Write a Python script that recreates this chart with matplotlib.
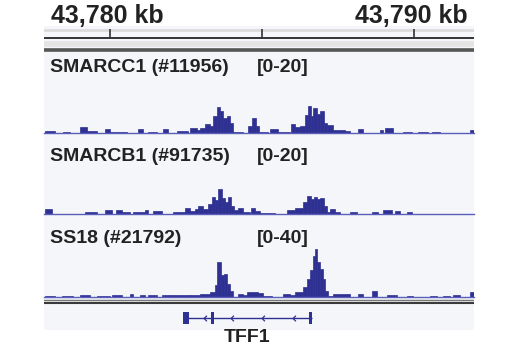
import numpy as np
import matplotlib
matplotlib.use("Agg")
import matplotlib.pyplot as plt
from matplotlib.path import Path

# genome window (kb)
ref_kb = 43780
view_start = 43777.83
view_end = 43791.97
ruler_ticks = [43780, 43785, 43790]
ruler_labels = ["43,780 kb", None, "43,790 kb"]

# signal bins: start / end as kb offset from 43,780 kb, value in track units
smarcc1_start = [-2.14, -1.55, -0.99, -0.76, -0.16, 0.00, 0.92, 1.25, 1.74, 2.20,
                 2.63, 2.86, 2.96, 3.13, 3.29, 3.39, 3.52, 3.62, 3.72, 3.85,
                 3.95, 4.05, 4.54, 4.67, 4.80, 4.90, 5.26, 5.53, 5.95, 6.09,
                 6.25, 6.41, 6.51, 6.61, 6.68, 6.81, 6.91, 7.04, 7.14, 7.34,
                 7.73, 8.16, 8.88, 9.05, 9.64, 10.13, 10.59, 11.84]
smarcc1_end = [-1.81, -1.32, -0.76, -0.43, 0.00, 0.56, 1.09, 1.55, 1.91, 2.57,
               2.86, 2.96, 3.13, 3.29, 3.39, 3.52, 3.62, 3.72, 3.85, 3.95,
               4.05, 4.38, 4.67, 4.80, 4.90, 5.20, 5.53, 5.92, 6.09, 6.25,
               6.41, 6.51, 6.61, 6.68, 6.81, 6.91, 7.04, 7.14, 7.34, 7.73,
               7.90, 8.32, 8.98, 9.31, 9.93, 10.46, 10.86, 11.97]
smarcc1_val = [0.5, 0.25, 1.5, 0.4, 1.0, 0.25, 1.0, 0.25, 1.0, 0.5,
               1.25, 0.75, 1.25, 2.25, 1.75, 4.25, 6.5, 5.5, 3.75, 4.25,
               2.5, 0.25, 1.75, 3.75, 1.75, 0.2, 1.0, 0.25, 2.25, 1.5,
               1.75, 4.5, 6.75, 4.25, 6.25, 4.75, 5.5, 2.5, 2.0, 0.75,
               0.4, 1.0, 0.75, 1.25, 0.25, 0.25, 0.25, 0.75]

smarcb1_start = [-2.14, -0.82, -0.16, 0.20, 0.39, 0.76, 1.15, 1.41, 2.07, 2.47,
                 2.63, 2.80, 2.89, 3.06, 3.22, 3.36, 3.45, 3.55, 3.68, 3.78,
                 3.88, 3.98, 4.08, 4.21, 4.38, 4.64, 4.77, 4.93, 5.82, 6.09,
                 6.35, 6.48, 6.61, 6.71, 6.81, 6.91, 7.04, 7.14, 7.24, 7.40,
                 7.89, 8.62, 8.98, 9.38, 9.77]
smarcb1_end = [-1.91, -0.43, 0.07, 0.39, 0.66, 1.15, 1.25, 1.71, 2.47, 2.63,
               2.80, 2.89, 3.06, 3.22, 3.36, 3.45, 3.55, 3.68, 3.78, 3.88,
               3.98, 4.08, 4.21, 4.38, 4.61, 4.77, 4.93, 5.43, 6.09, 6.35,
               6.48, 6.61, 6.71, 6.81, 6.91, 7.04, 7.14, 7.24, 7.40, 7.57,
               8.13, 8.82, 9.28, 9.54, 9.93]
smarcb1_val = [1.25, 0.5, 1.0, 1.0, 0.4, 0.6, 1.0, 0.75, 0.5, 1.5,
               0.75, 1.25, 2.0, 1.25, 2.5, 4.25, 3.5, 6.25, 4.0, 3.0,
               4.25, 2.0, 1.0, 1.5, 0.5, 1.5, 0.75, 0.25, 1.0, 1.5,
               3.0, 4.5, 3.75, 4.25, 3.75, 4.0, 2.0, 0.5, 1.25, 0.5,
               0.5, 0.5, 1.0, 0.75, 0.6]

ss18_start = [-2.14, -1.58, -0.99, -0.43, 0.07, 0.66, 0.99, 1.25, 1.71, 1.97,
              2.63, 2.96, 3.29, 3.45, 3.52, 3.65, 3.75, 3.85, 3.95, 4.05,
              4.21, 4.38, 4.51, 4.87, 5.03, 5.33, 5.69, 5.92, 6.09, 6.35,
              6.48, 6.58, 6.68, 6.74, 6.81, 6.91, 7.01, 7.07, 7.17, 7.34,
              8.16, 8.62, 9.11, 9.77, 10.53, 10.95, 11.28, 11.84]
ss18_end = [-1.81, -1.22, -0.66, 0.00, 0.39, 0.76, 1.15, 1.55, 1.97, 2.63,
            2.96, 3.29, 3.45, 3.52, 3.65, 3.75, 3.85, 3.95, 4.05, 4.21,
            4.38, 4.51, 4.87, 5.03, 5.33, 5.59, 5.92, 6.09, 6.35, 6.48,
            6.58, 6.68, 6.74, 6.81, 6.91, 7.01, 7.07, 7.17, 7.34, 7.89,
            8.32, 8.78, 9.44, 9.97, 10.76, 11.18, 11.51, 11.97]
ss18_val = [0.75, 0.75, 1.0, 0.5, 1.0, 1.5, 1.0, 1.0, 1.25, 1.0,
            1.25, 1.5, 2.5, 6.0, 17.5, 11.0, 11.5, 6.5, 3.0, 0.25,
            1.5, 1.0, 2.5, 2.0, 0.75, 0.25, 1.5, 1.0, 2.5, 5.0,
            9.0, 13.5, 20.5, 24.0, 17.5, 14.0, 9.0, 3.0, 0.5, 1.5,
            1.5, 3.0, 1.0, 0.75, 0.75, 0.5, 1.0, 2.5]

track_names = ["SMARCC1 (#11956)", "SMARCB1 (#91735)", "SS18 (#21792)"]
track_ranges = ["[0-20]", "[0-20]", "[0-40]"]
track_max = [20, 20, 40]

# TFF1 gene model (kb offsets, minus strand)
gene_name = "TFF1"
gene_start, gene_end = 2.40, 6.64
exon_start = [2.40, 3.32, 6.55]
exon_end = [2.60, 3.42, 6.64]
chevron_pos = [3.13, 4.01, 5.03, 6.05]

navy = "#2e3192"
W, H = 520, 350
font = ["Liberation Sans", "DejaVu Sans"]


def box(x0, y0, x1, y1):
    return [x0 / W, 1 - y1 / H, (x1 - x0) / W, (y1 - y0) / H]


def clean(ax):
    ax.set_xticks([])
    ax.set_yticks([])
    for s in ax.spines.values():
        s.set_visible(False)


fig = plt.figure(figsize=(W / 100, H / 100), dpi=100)

bg = fig.add_axes(box(44, 26, 474, 330))
bg.set_facecolor("#f4f6f9")
clean(bg)

# ruler
rax = fig.add_axes(box(44, 26, 474, 52))
rax.set_xlim(view_start, view_end)
rax.set_ylim(52, 26)
rax.patch.set_alpha(0)
clean(rax)
rax.axhline(30, color="#dcdcdc", lw=2)
rax.vlines(ruler_ticks, 29, 38, color="#333333", lw=1.2)
rax.axhline(38, color="#333333", lw=1.4)
rax.axhline(44, color="#e4e4e4", lw=4)
rax.axhline(49.5, color="#555555", lw=2.6)
for t, lab in zip(ruler_ticks, ruler_labels):
    if lab:
        rax.text(t - 0.08, 23, lab, ha="center", va="baseline", fontsize=18,
                 fontweight="bold", family=font, color="#222222")

# signal tracks
tracks = [(smarcc1_start, smarcc1_end, smarcc1_val),
          (smarcb1_start, smarcb1_end, smarcb1_val),
          (ss18_start, ss18_end, ss18_val)]
extents = [(53, 133), (134, 214), (217, 297)]
label_base = [72, 161, 243]

for i, (s, e, v) in enumerate(tracks):
    top, bot = extents[i]
    ax = fig.add_axes(box(44, top, 474, bot))
    ax.set_xlim(view_start, view_end)
    ax.set_ylim(0, track_max[i])
    ax.patch.set_alpha(0)
    clean(ax)
    x0 = ref_kb + np.array(s)
    w = np.array(e) - np.array(s)
    ax.bar(x0, v, width=w, align="edge", color=navy, edgecolor=navy, linewidth=0.5)
    ax.axhline(0, color="#5a5eb8", lw=1, clip_on=False)
    fig.text(50 / W, 1 - label_base[i] / H, track_names[i], ha="left",
             va="baseline", fontsize=14, fontweight="bold", family=font,
             color="#222222")
    fig.text(257 / W, 1 - label_base[i] / H, track_ranges[i], ha="left",
             va="baseline", fontsize=14, fontweight="bold", family=font,
             color="#222222")

# separator under the last track
sax = fig.add_axes(box(44, 297, 474, 305))
sax.set_ylim(305, 297)
sax.patch.set_alpha(0)
clean(sax)
sax.axhline(299.5, color="#777777", lw=1)
sax.axhline(302.5, color="#3a3a3a", lw=1.5)

# gene track
gax = fig.add_axes(box(44, 305, 474, 330))
gax.set_xlim(view_start, view_end)
gax.set_ylim(-1, 1)
gax.patch.set_alpha(0)
clean(gax)
gax.hlines(0, ref_kb + gene_start, ref_kb + gene_end, color=navy, lw=1)
ex0 = ref_kb + np.array(exon_start)
gax.bar(ex0, 0.96, bottom=-0.48, width=np.array(exon_end) - np.array(exon_start),
        align="edge", color=navy, linewidth=0)
chev = Path([(0.5, 1), (-0.5, 0), (0.5, -1)], [Path.MOVETO, Path.LINETO, Path.LINETO])
gax.plot(ref_kb + np.array(chevron_pos), np.zeros(len(chevron_pos)), ls="none",
         marker=chev, markersize=4, markeredgewidth=0.9, markerfacecolor="none",
         markeredgecolor=navy)
gx = ref_kb + (gene_start + gene_end) / 2
gax.annotate(gene_name, xy=(gx, -1), xytext=(0, -12), textcoords="offset pixels",
             ha="center", va="baseline", fontsize=14, fontweight="bold",
             family=font, color="#222222", annotation_clip=False)

fig.savefig("out.png", dpi=100)
